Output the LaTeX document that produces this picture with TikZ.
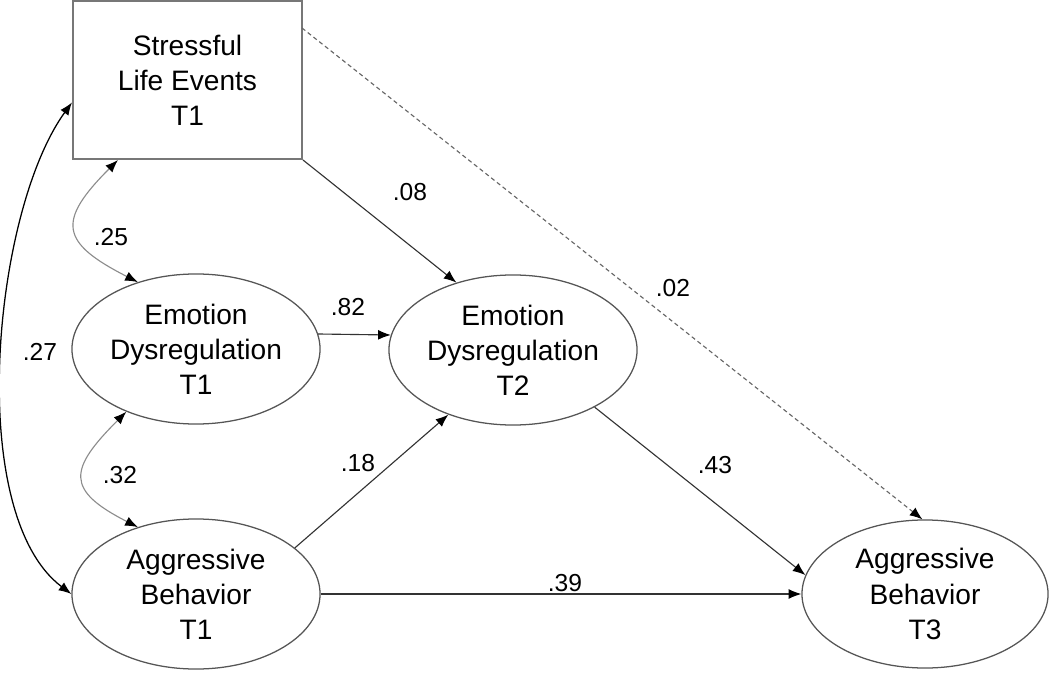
\documentclass[tikz,border=0pt]{standalone}
\usepackage{fontspec}
\setmainfont{Liberation Sans}
\usetikzlibrary{shapes.geometric, arrows.meta}

\definecolor{boxgray}{HTML}{777777}
\definecolor{ringgray}{HTML}{555555}
\definecolor{linegray}{HTML}{333333}
\definecolor{softgray}{HTML}{8C8C8C}
\definecolor{dashgray}{HTML}{666666}

\tikzset{
	observed/.style={rectangle, draw=boxgray, line width=1.4pt, minimum width=5.725cm, minimum height=3.95cm, inner sep=0pt, align=center, font=\fontsize{20}{25}\selectfont},
	latent/.style={ellipse, draw=ringgray, line width=0.9pt, minimum width=6.2cm, minimum height=3.75cm, inner sep=0pt, align=center, font=\fontsize{20}{25}\selectfont},
	effect/.style={draw=linegray, line width=0.8pt, -{Latex[length=9pt, width=7pt, color=black]}},
	covary/.style={draw=softgray, line width=0.8pt, {Latex[length=9pt, width=7pt, color=black]}-{Latex[length=9pt, width=7pt, color=black]}},
	coef/.style={font=\fontsize{17.5}{20}\selectfont}
}

\begin{document}
\begin{tikzpicture}[x=0.025cm, y=0.025cm]
		\useasboundingbox (0,0) rectangle (1050,672);
	
		\node [observed] (stress) at (187.5,592) {Stressful\\Life Events\\T1};
		\node [latent] (emo one) at (196,323) {Emotion\\Dysregulation\\T1};
		\node [latent] (agg one) at (196,78) {Aggressive\\Behavior\\T1};
		\node [latent] (emo two) at (513,322) {Emotion\\Dysregulation\\T2};
		\node [latent, minimum width=6.15cm, minimum height=3.7cm] (agg three) at (925,78) {Aggressive\\Behavior\\T3};
		
		\coordinate (dash start) at (302,644);
		
		% correlations on the left
		\draw [covary, draw=black, line width=0.9pt] (stress.191) to [out=234, in=143, looseness=0.7] (agg one.west);
		\node [coef] (r27) at (40,320) {.27};
		
		\draw [covary] (stress.229) to [out=225, in=153, looseness=1.8] (emo one.131);
		\node [coef] (r25) at (111,435) {.25};
		
		\draw [covary] (emo one.222) to [out=225, in=153, looseness=1.8] (agg one.131);
		\node [coef] (r32) at (120,197) {.32};
		
		% paths
		\draw [effect] (stress.south east) -- (emo two.130);
		\node [coef] (b08) at (410,480) {.08};
		
		\draw [effect, draw=dashgray, dash pattern=on 3pt off 2.2pt] (dash start) -- (agg three.92);
		\node [coef] (b02) at (673,384) {.02};
		
		\draw [effect] (emo one.7) -- (emo two.173);
		\node [coef] (b82) at (348,365) {.82};
		
		\draw [effect] (agg one.25) -- (emo two.225);
		\node [coef] (b18) at (358,209) {.18};
		
		\draw [effect] (emo two.325) -- (agg three.171);
		\node [coef] (b43) at (715,207) {.43};
		
		\draw [effect] (agg one.east) -- (agg three.west);
		\node [coef] (b39) at (565,89) {.39};
	
	\end{tikzpicture}
\end{document}
